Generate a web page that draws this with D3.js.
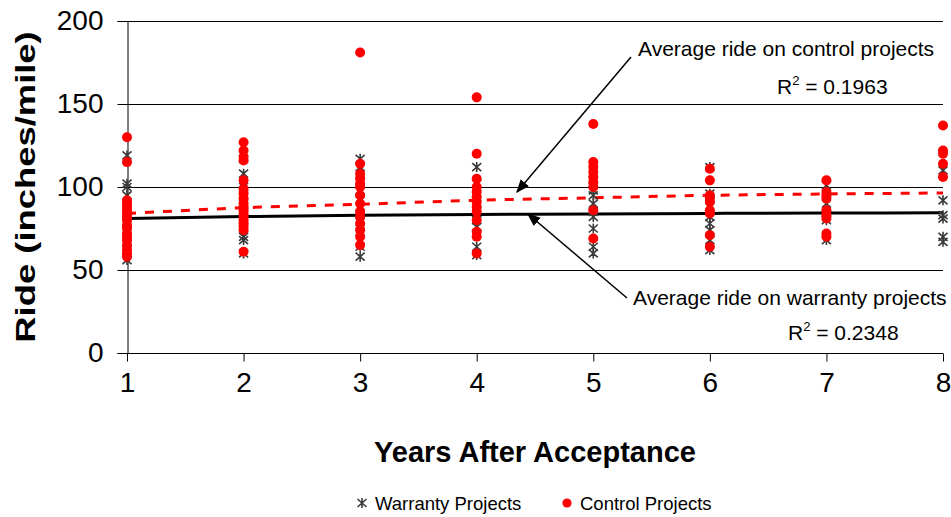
<!DOCTYPE html>
<html>
<head>
<meta charset="utf-8">
<script src="https://cdn.jsdelivr.net/npm/d3@7"></script>
<style>
  body { margin: 0; background: #fff; }
  text { font-family: "Liberation Sans", Arial, sans-serif; fill: #000; }
</style>
</head>
<body>
<div id="chart"></div>
<script>
// years on the x axis
var years = [1, 2, 3, 4, 5, 6, 7, 8];
var yTicks = [0, 50, 100, 150, 200];

// ride values, one list per year
var warranty = [
  [119, 102, 100, 95, 88, 82, 78, 74, 70, 66, 62, 56],
  [117, 108, 100, 95, 90, 85, 80, 75, 70, 68, 60],
  [117, 112, 104, 98, 92, 88, 84, 79, 73, 64, 58],
  [112, 102, 96, 90, 84, 80, 76, 72, 64, 59],
  [104, 98, 95, 90, 85, 82, 75, 64, 60],
  [112, 96, 93, 88, 82, 78, 74, 68, 62],
  [101, 96, 90, 84, 80, 68],
  [110, 92, 83, 81, 70, 67]
];
var control = [
  [130, 115, 92, 90, 88, 86, 84, 82, 80, 77, 75, 72, 70, 68, 65, 62, 60, 58],
  [127, 122, 118, 116, 104, 99, 96, 93, 90, 88, 86, 84, 82, 80, 78, 76, 74, 61],
  [181, 114, 108, 105, 102, 100, 95, 90, 85, 82, 78, 74, 70, 65],
  [154, 120, 105, 100, 97, 94, 91, 88, 85, 80, 73, 70, 60],
  [138, 115, 112, 109, 106, 103, 100, 86, 69],
  [111, 104, 95, 93, 91, 86, 84, 71, 64],
  [104, 97, 95, 93, 86, 83, 81, 72, 70],
  [137, 122, 120, 114, 106]
];

// trend lines as drawn
var warrantyTrend = [81, 82.2, 83, 83.4, 83.8, 84.1, 84.3, 84.5];
var controlTrend = [84, 87.5, 89.6, 92, 93.5, 95, 95.8, 96.4];

var W = 951, H = 517;
var svg = d3.select("#chart").append("svg")
  .attr("width", W).attr("height", H);

var x = d3.scaleLinear().domain([1, 8]).range([127, 943]);
var y = d3.scaleLinear().domain([0, 200]).range([353, 21]);

// gridlines
svg.append("g").selectAll("line")
  .data(yTicks.filter(function(d){ return d > 0; }))
  .enter().append("line")
  .attr("x1", x(1)).attr("x2", x(8))
  .attr("y1", function(d){ return Math.round(y(d)) + 0.5; })
  .attr("y2", function(d){ return Math.round(y(d)) + 0.5; })
  .attr("stroke", "#000").attr("stroke-width", 1);

// axes
var yAxis = svg.append("g")
  .attr("transform", "translate(" + (x(1) + 0.5) + ",0)")
  .call(d3.axisLeft(y).tickValues(yTicks).tickSize(10).tickPadding(14));
var xAxis = svg.append("g")
  .attr("transform", "translate(0," + (Math.round(y(0)) + 0.5) + ")")
  .call(d3.axisBottom(x).tickValues(years).tickFormat(d3.format("d")).tickSize(8).tickPadding(11));
[yAxis, xAxis].forEach(function(a){
  a.select(".domain").attr("stroke", "#000");
  a.selectAll(".tick line").attr("stroke", "#000");
  a.selectAll(".tick text")
    .style("font-family", '"Liberation Sans", Arial, sans-serif')
    .style("font-size", "28px").attr("fill", "#000");
});
xAxis.select(".domain").attr("d", "M" + x(1) + ",0H" + x(8));

// trend lines
var line = d3.line()
  .x(function(d, i){ return x(years[i]); })
  .y(function(d){ return y(d); })
  .curve(d3.curveMonotoneX);

svg.append("path").datum(controlTrend)
  .attr("d", line).attr("fill", "none")
  .attr("stroke", "#ff0000").attr("stroke-width", 3)
  .attr("stroke-dasharray", "9,9");
svg.append("path").datum(warrantyTrend)
  .attr("d", line).attr("fill", "none")
  .attr("stroke", "#000").attr("stroke-width", 3);

// flatten points
function flat(groups) {
  var out = [];
  groups.forEach(function(g, i){
    g.forEach(function(v){ out.push({ year: years[i], v: v }); });
  });
  return out;
}

function star(sel) {
  sel.append("path")
    .attr("d", "M-4.5,-4L4.5,4M-4.5,4L4.5,-4M0,-5L0,5")
    .attr("stroke", "#3a3a3a").attr("stroke-width", 1.6)
    .attr("fill", "none");
}

var wg = svg.append("g").selectAll("g")
  .data(flat(warranty)).enter().append("g")
  .attr("transform", function(d){ return "translate(" + x(d.year) + "," + y(d.v) + ")"; });
star(wg);

svg.append("g").selectAll("circle")
  .data(flat(control)).enter().append("circle")
  .attr("cx", function(d){ return x(d.year); })
  .attr("cy", function(d){ return y(d.v); })
  .attr("r", 5)
  .attr("fill", "#ff0000");

// annotations
svg.append("text").attr("x", 638).attr("y", 56)
  .style("font-size", "21px").text("Average ride on control projects");
var r1 = svg.append("text").attr("x", 777).attr("y", 94).style("font-size", "21px");
r1.append("tspan").text("R");
r1.append("tspan").attr("dy", -9).style("font-size", "13px").text("2");
r1.append("tspan").attr("dy", 9).text(" = 0.1963");

svg.append("text").attr("x", 633).attr("y", 305)
  .style("font-size", "21px").text("Average ride on warranty projects");
var r2 = svg.append("text").attr("x", 788).attr("y", 340).style("font-size", "21px");
r2.append("tspan").text("R");
r2.append("tspan").attr("dy", -9).style("font-size", "13px").text("2");
r2.append("tspan").attr("dy", 9).text(" = 0.2348");

var defs = svg.append("defs");
defs.append("marker").attr("id", "arrow")
  .attr("viewBox", "0 0 10 10").attr("refX", 9).attr("refY", 5)
  .attr("markerWidth", 9).attr("markerHeight", 9)
  .attr("orient", "auto")
  .append("path").attr("d", "M0,1L10,5L0,9Z").attr("fill", "#000");

svg.append("line")
  .attr("x1", 631).attr("y1", 57).attr("x2", 517).attr("y2", 192)
  .attr("stroke", "#000").attr("stroke-width", 1.5)
  .attr("marker-end", "url(#arrow)");
svg.append("line")
  .attr("x1", 627).attr("y1", 298).attr("x2", 528).attr("y2", 214)
  .attr("stroke", "#000").attr("stroke-width", 1.5)
  .attr("marker-end", "url(#arrow)");

// axis titles
svg.append("text")
  .attr("transform", "translate(35,187) rotate(-90) scale(1.3,1)")
  .attr("text-anchor", "middle")
  .style("font-size", "28px").style("font-weight", "bold")
  .text("Ride (inches/mile)");
svg.append("text")
  .attr("x", 535).attr("y", 462)
  .attr("text-anchor", "middle")
  .style("font-size", "29px").style("font-weight", "bold")
  .text("Years After Acceptance");

// legend
var lg = svg.append("g").attr("transform", "translate(0,503)");
var ls = lg.append("g").attr("transform", "translate(362,0)");
star(ls);
lg.append("text").attr("x", 375).attr("y", 6.5)
  .style("font-size", "18.5px").text("Warranty Projects");
lg.append("circle").attr("cx", 567).attr("cy", 0).attr("r", 4.6).attr("fill", "#ff0000");
lg.append("text").attr("x", 580).attr("y", 6.5)
  .style("font-size", "18.5px").text("Control Projects");
</script>
</body>
</html>
